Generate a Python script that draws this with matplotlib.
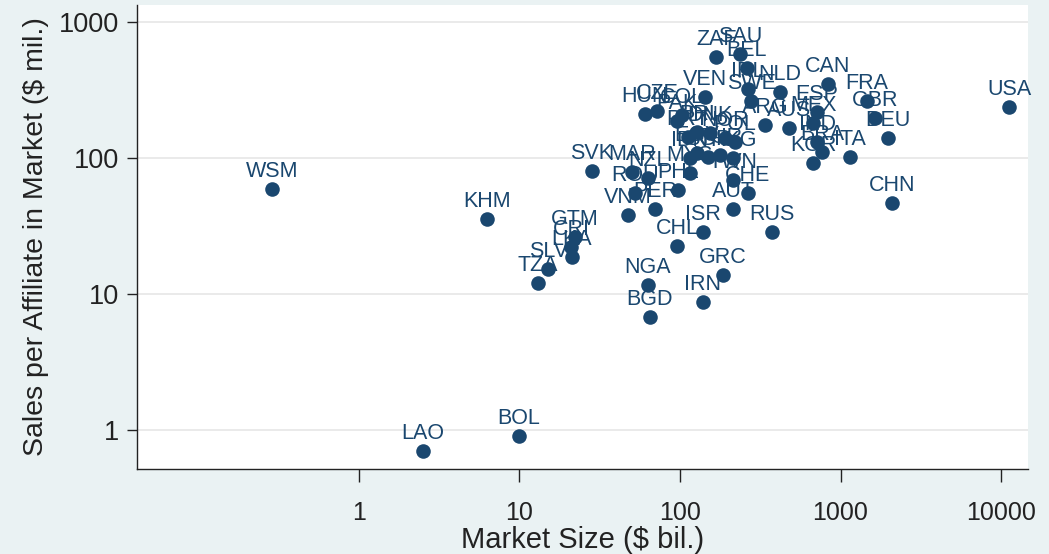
import matplotlib
matplotlib.use("Agg")
import matplotlib.pyplot as plt

plt.rcParams['font.family'] = ['Liberation Sans', 'DejaVu Sans']

# country codes, market size ($ bil.), sales per affiliate ($ mil.)
countries = ["WSM", "KHM", "LAO", "BOL", "TZA", "SLV", "GTM", "CRI", "LKA", "SVK",
             "MAR", "NZL", "ROU", "VNM", "PER", "PHL", "MYS", "ISR", "CHL", "NGA",
             "BGD", "IRN", "GRC", "RUS", "AUT", "CHE", "TWN", "HKG", "TUR", "SGP",
             "EGY", "IDN", "PRT", "PRI", "DNK", "NOR", "POL", "HUN", "CZE", "COL",
             "PAK", "VEN", "ZAF", "SAU", "BEL", "IRL", "SWE", "NLD", "ARG", "AUS",
             "ESP", "MEX", "IND", "BRA", "KOR", "ITA", "CAN", "FRA", "GBR", "DEU",
             "CHN", "USA"]
market_size = [0.287, 6.27, 2.50, 9.9, 13.0, 15.1, 22.2, 20.9, 21.2, 28.3,
               50.2, 63.2, 52.5, 47.5, 69.8, 97.2, 115, 139, 95.8, 63.2,
               65.0, 139, 185, 374, 214, 265, 214, 214, 178, 149,
               128, 115, 112, 128, 154, 191, 220, 60.5, 71.9, 103,
               95.8, 143, 168, 237, 261, 265, 277, 420, 339, 478,
               714, 674, 714, 767, 674, 1146, 836, 1462, 1640, 1977,
               2094, 11220]
sales_per_affiliate = [59.2, 35.6, 0.70, 0.90, 12.0, 15.3, 26.3, 22.2, 18.7, 80.2,
                       78.9, 71.3, 55.3, 38.1, 42.2, 58.2, 77.6, 28.6, 22.5, 11.6,
                       6.78, 8.73, 13.8, 28.6, 42.2, 55.3, 68.9, 100, 105, 102,
                       109, 100, 143, 155, 153, 140, 131, 211, 222, 207,
                       187, 281, 553, 582, 459, 322, 262, 306, 175, 166,
                       218, 181, 131, 111, 91.9, 102, 350, 262, 197, 140,
                       46.7, 237]

xticks = [1, 10, 100, 1000, 10000]
yticks = [1, 10, 100, 1000]

navy = '#1a476f'
bg = '#eaf2f3'

fig = plt.figure(figsize=(10.49, 5.54), dpi=100, facecolor=bg)
ax = fig.add_axes([0.1306, 0.1534, 0.8494, 0.8376])
ax.set_facecolor('white')

ax.scatter(market_size, sales_per_affiliate, s=110, color=navy, zorder=3, linewidths=0)
for name, xv, yv in zip(countries, market_size, sales_per_affiliate):
    ax.annotate(name, (xv, yv), xytext=(0, 8.5), textcoords='offset points',
                ha='center', va='baseline', fontsize=15.5, color=navy, zorder=4)

ax.set_xscale('log')
ax.set_yscale('log')
ax.set_xlim(0.0414, 14730)
ax.set_ylim(0.516, 1334)
ax.set_xticks(xticks)
ax.set_xticklabels([str(t) for t in xticks])
ax.set_yticks(yticks)
ax.set_yticklabels([str(t) for t in yticks])
ax.minorticks_off()

ax.grid(axis='y', color='#e6e6e6', linewidth=1.2, zorder=0)
ax.set_axisbelow(True)
for side in ['top', 'right']:
    ax.spines[side].set_visible(False)
for side in ['left', 'bottom']:
    ax.spines[side].set_color('#222222')
    ax.spines[side].set_linewidth(1.0)

ax.tick_params(axis='x', length=9, width=1, pad=14, labelsize=18, colors='#222222')
ax.tick_params(axis='y', length=7, width=1, pad=6, labelsize=19.5, colors='#222222')

ax.set_xlabel("Market Size ($ bil.)", fontsize=21, color='#222222', labelpad=1)
ax.set_ylabel("Sales per Affiliate in Market ($ mil.)", fontsize=20.5, color='#222222', labelpad=7)

fig.savefig("out.png", dpi=100, facecolor=bg)
